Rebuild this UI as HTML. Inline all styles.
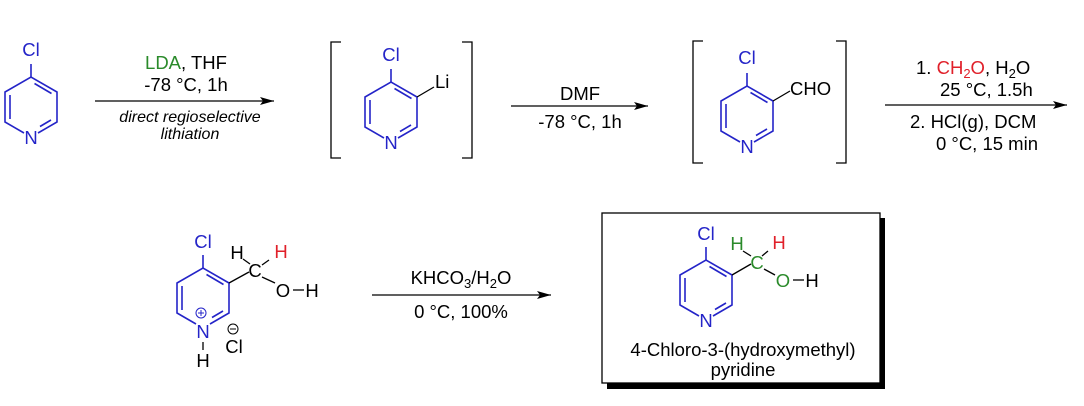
<!DOCTYPE html>
<html><head><meta charset="utf-8"><style>
html,body{margin:0;padding:0;background:#fff;}
svg{display:block;}
text{font-family:"Liberation Sans",Arial,sans-serif;font-size:18.5px;}
</style></head><body>
<svg width="1084" height="406" viewBox="0 0 1084 406" xmlns="http://www.w3.org/2000/svg">
<defs>
<marker id="ah" markerWidth="14" markerHeight="8" refX="14" refY="4" orient="auto" markerUnits="userSpaceOnUse">
<path d="M0,0 L14,4 L0,8 L3,4 Z" fill="#000"/></marker>
<g id="ring" stroke="#2424c8" stroke-width="1.6" fill="none">
<path d="M-7,26 L-26,15 L-26,-15 L0,-30 L26,-15 L26,15 L7,26"/>
<path d="M-21,-12 L-21,12 M3.5,-23.5 L20.5,-13.5 M20,13 L9,19.5 M0,-30 L0,-43"/>
</g>
</defs>
<g fill="#000">
<use href="#ring" x="31" y="107"/>
<text x="31" y="56" text-anchor="middle" fill="#2424c8">Cl</text>
<text x="31" y="144" text-anchor="middle" fill="#2424c8">N</text>

<line x1="95" y1="101" x2="274" y2="101" stroke="#000" stroke-width="1.3" marker-end="url(#ah)"/>
<text x="186" y="69" text-anchor="middle"><tspan fill="#2a8a2a">LDA</tspan>, THF</text>
<text x="186" y="91" text-anchor="middle">-78 °C, 1h</text>
<text x="190" y="122" text-anchor="middle" font-style="italic" style="font-size:16px">direct regioselective</text>
<text x="190" y="139" text-anchor="middle" font-style="italic" style="font-size:16px">lithiation</text>

<path d="M341,42 L331,42 L331,158 L341,158 M462,42 L472,42 L472,158 L462,158" stroke="#000" stroke-width="1.3" fill="none"/>
<use href="#ring" x="391" y="112"/>
<text x="391" y="61" text-anchor="middle" fill="#2424c8">Cl</text>
<text x="391" y="149" text-anchor="middle" fill="#2424c8">N</text>
<line x1="417" y1="97" x2="434" y2="87" stroke="#000" stroke-width="1.3"/>
<text x="435" y="88">Li</text>

<line x1="511" y1="106" x2="648" y2="106" stroke="#000" stroke-width="1.3" marker-end="url(#ah)"/>
<text x="580" y="100" text-anchor="middle">DMF</text>
<text x="580" y="128" text-anchor="middle">-78 °C, 1h</text>

<path d="M703,41 L693,41 L693,163 L703,163 M836,41 L846,41 L846,163 L836,163" stroke="#000" stroke-width="1.3" fill="none"/>
<use href="#ring" x="747" y="116"/>
<text x="747" y="64" text-anchor="middle" fill="#2424c8">Cl</text>
<text x="747" y="153" text-anchor="middle" fill="#2424c8">N</text>
<line x1="773" y1="101" x2="790" y2="91" stroke="#000" stroke-width="1.3"/>
<text x="790" y="95">CHO</text>

<line x1="885" y1="105" x2="1067" y2="105" stroke="#000" stroke-width="1.3" marker-end="url(#ah)"/>
<text x="916" y="74">1.  <tspan fill="#e0202a">CH<tspan dy="4" style="font-size:13px">2</tspan><tspan dy="-4">O</tspan></tspan>, H<tspan dy="4" style="font-size:13px">2</tspan><tspan dy="-4">O</tspan></text>
<text x="940" y="96">25 °C, 1.5h</text>
<text x="910" y="128">2.  HCl(g), DCM</text>
<text x="936" y="150">0 °C, 15 min</text>

<use href="#ring" x="203" y="298"/>
<text x="203" y="248" text-anchor="middle" fill="#2424c8">Cl</text>
<text x="203" y="338" text-anchor="middle" fill="#2424c8">N</text>
<circle cx="201" cy="313" r="5" fill="none" stroke="#2424c8" stroke-width="1"/>
<path d="M198,313 h6 M201,310 v6" stroke="#2424c8" stroke-width="1"/>
<line x1="203" y1="342" x2="203" y2="350" stroke="#000" stroke-width="1.3"/>
<text x="203" y="367" text-anchor="middle">H</text>
<circle cx="233" cy="329" r="5" fill="none" stroke="#000" stroke-width="1"/>
<path d="M230,329 h6" stroke="#000" stroke-width="1"/>
<text x="234" y="353" text-anchor="middle">Cl</text>
<line x1="229" y1="283" x2="249" y2="272" stroke="#000" stroke-width="1.3"/>
<text x="255" y="277" text-anchor="middle">C</text>
<text x="237" y="259" text-anchor="middle">H</text>
<text x="281" y="258" text-anchor="middle" fill="#e0202a">H</text>
<line x1="243" y1="259" x2="250" y2="264" stroke="#000" stroke-width="1.3"/>
<line x1="269" y1="260" x2="262" y2="265" stroke="#000" stroke-width="1.3"/>
<line x1="262" y1="277" x2="275" y2="283" stroke="#000" stroke-width="1.3"/>
<text x="283" y="297" text-anchor="middle">O</text>
<line x1="293" y1="290" x2="304" y2="290" stroke="#000" stroke-width="1.3"/>
<text x="312" y="297" text-anchor="middle">H</text>

<line x1="372" y1="295" x2="551" y2="295" stroke="#000" stroke-width="1.3" marker-end="url(#ah)"/>
<text x="461" y="284" text-anchor="middle">KHCO<tspan dy="4" style="font-size:13px">3</tspan><tspan dy="-4">/H</tspan><tspan dy="4" style="font-size:13px">2</tspan><tspan dy="-4">O</tspan></text>
<text x="461" y="318" text-anchor="middle">0 °C, 100%</text>

<rect x="607" y="218" width="278" height="171" fill="#000"/>
<rect x="602" y="213" width="278" height="170" fill="#fff" stroke="#000" stroke-width="1.3"/>
<use href="#ring" x="706" y="290"/>
<text x="706" y="240" text-anchor="middle" fill="#2424c8">Cl</text>
<text x="706" y="327" text-anchor="middle" fill="#2424c8">N</text>
<line x1="732" y1="275" x2="751" y2="264" stroke="#000" stroke-width="1.3"/>
<text x="757" y="269" text-anchor="middle" fill="#2a8a2a">C</text>
<text x="737" y="250" text-anchor="middle" fill="#2a8a2a">H</text>
<text x="779" y="249" text-anchor="middle" fill="#e0202a">H</text>
<line x1="743" y1="251" x2="751" y2="256" stroke="#000" stroke-width="1.3"/>
<line x1="768" y1="251" x2="762" y2="256" stroke="#000" stroke-width="1.3"/>
<line x1="764" y1="269" x2="775" y2="275" stroke="#000" stroke-width="1.3"/>
<text x="783" y="287" text-anchor="middle" fill="#2a8a2a">O</text>
<line x1="793" y1="280" x2="804" y2="280" stroke="#000" stroke-width="1.3"/>
<text x="812" y="287" text-anchor="middle">H</text>
<text x="743" y="356" text-anchor="middle">4-Chloro-3-(hydroxymethyl)</text>
<text x="743" y="376" text-anchor="middle">pyridine</text>
</g>
</svg>
</body></html>
